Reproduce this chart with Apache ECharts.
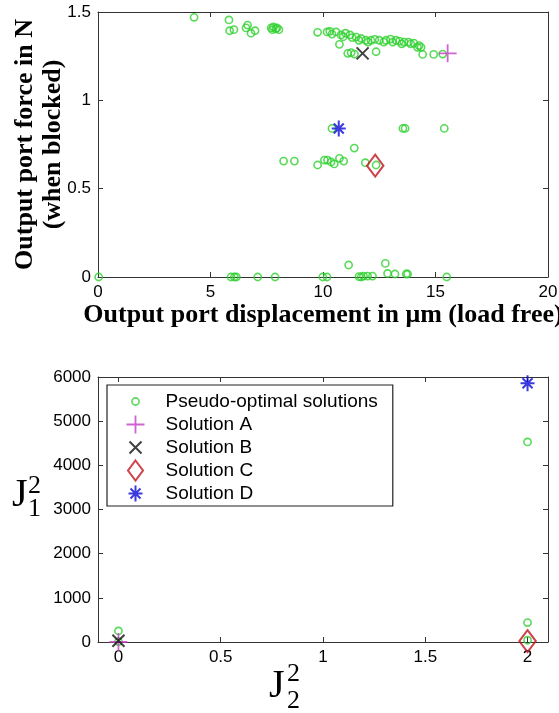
<!DOCTYPE html>
<html><head><meta charset="utf-8">
<script src="https://cdn.jsdelivr.net/npm/echarts@6/dist/echarts.min.js"></script>
<style>html,body{margin:0;padding:0;background:#fff}#c{width:559px;height:713px}</style>
</head><body><div id="c"></div>
<script>
// ---------- data ----------
const seriesNames = ['Pseudo-optimal solutions', 'Solution A', 'Solution B', 'Solution C', 'Solution D'];

// top chart: displacement (µm) vs blocked force (N)
const topPseudo = [
  [4.27,1.47],[5.82,1.455],[6.04,1.40],[5.85,1.394],[6.65,1.426],[6.58,1.41],[6.8,1.38],[6.98,1.394],
  [7.7,1.41],[7.75,1.40],[7.8,1.415],[7.9,1.405],[7.95,1.41],[8.04,1.40],
  [9.76,1.385],[10.18,1.387],[10.3,1.39],[10.4,1.375],[10.58,1.387],[10.8,1.37],[10.9,1.36],[11.0,1.38],
  [11.2,1.37],[11.3,1.355],[11.47,1.358],[11.6,1.34],[11.7,1.35],[11.9,1.34],[12.0,1.33],[12.13,1.34],
  [12.3,1.345],[12.5,1.34],[12.7,1.33],[12.8,1.34],[13.0,1.347],[13.1,1.33],[13.24,1.34],
  [13.4,1.335],[13.5,1.32],[13.6,1.33],[13.8,1.33],[13.9,1.32],[14.04,1.324],[14.2,1.30],[14.27,1.31],
  [14.36,1.30],[10.73,1.317],
  [11.1,1.266],[11.25,1.27],[11.4,1.262],[12.36,1.275],[14.43,1.26],[14.92,1.26],[15.32,1.262],
  [10.4,0.841],[13.55,0.841],[13.65,0.841],[15.39,0.841],
  [11.39,0.73],[8.25,0.656],[8.73,0.656],[9.76,0.634],[10.06,0.662],[10.2,0.662],[10.36,0.651],
  [10.5,0.64],[10.73,0.672],[10.92,0.656],[11.88,0.647],[12.36,0.634],
  [0.03,0],[5.91,0],[6.06,0],[6.15,0],[7.1,0],[7.87,0],[9.99,0],[10.18,0],[11.14,0.068],
  [11.6,0.002],[11.7,0],[11.8,0.005],[11.98,0.005],[12.2,0.005],[12.77,0.077],[12.87,0.02],
  [13.2,0.017],[13.7,0.017],[13.76,0.017],[15.5,0]
];
const topA = [[15.54,1.266]];
const topB = [[11.76,1.266]];
const topC = [[12.32,0.63]];
const topD = [[10.7,0.841]];

// bottom chart: J2^2 vs J1^2
const bottomPseudo = [[0,250],[0,10],[2,4530],[2,440],[2,40]];
const bottomA = [[0,0]];
const bottomB = [[0,30]];
const bottomC = [[2,20]];
const bottomD = [[2,5860]];

const topXTicks = [0, 5, 10, 15, 20];
const topYTicks = [0, 0.5, 1, 1.5];
const bottomXTicks = [0, 0.5, 1, 1.5, 2];
const bottomYTicks = [0, 1000, 2000, 3000, 4000, 5000, 6000];

// ---------- styles ----------
const GREEN = '#2ed12e', MAG = '#c43cc4', BLK = '#111', RED = '#c0141c', BLUE = '#0a0ad8';
const SYM = {
  circle: 'path://M0 0 M20 20 M13.6 10 A3.6 3.6 0 1 1 6.4 10 A3.6 3.6 0 1 1 13.6 10 Z',
  plus: 'path://M0 0 M20 20 M1 10 L19 10 M10 1 L10 19',
  cross: 'path://M0 0 M20 20 M4 4 L16 16 M16 4 L4 16',
  diamond: 'path://M0 0 M20 20 M10 0 L17.5 10 L10 20 L2.5 10 Z',
  star: 'path://M0 0 M20 20 M10 2 L10 18 M3 10 L17 10 M5 5 L15 15 M15 5 L5 15'
};
const styles = [
  {symbol: SYM.circle, color: GREEN, bw: 1.6, size: 20},
  {symbol: SYM.plus, color: MAG, bw: 1.8, size: 20},
  {symbol: SYM.cross, color: BLK, bw: 2, size: 20},
  {symbol: SYM.diamond, color: RED, bw: 2, size: 22},
  {symbol: SYM.star, color: BLUE, bw: 2, size: 20}
];

const labelFont = {fontFamily: 'Liberation Sans', fontSize: 17, color: '#000'};
const titleFont = {fontFamily: 'Liberation Serif', fontWeight: 'bold', fontSize: 26, color: '#000'};
const lineCol = '#333';
const fmt = v => String(v);

function axis(extra, showLabel, custom) {
  const a = Object.assign({
    type: 'value',
    axisLine: {show: true, onZero: false, lineStyle: {color: lineCol, width: 1}},
    axisTick: {show: true, inside: true, length: 5, lineStyle: {color: lineCol}},
    splitLine: {show: false},
    axisLabel: Object.assign({show: showLabel, margin: 7, formatter: fmt}, labelFont)
  }, extra);
  if (custom) {
    a.axisTick.customValues = custom;
    a.axisLabel.customValues = custom;
  }
  return a;
}

function mk(name, data, xi, yi, k) {
  const s = styles[k];
  return {
    name, type: 'scatter', xAxisIndex: xi, yAxisIndex: yi, data,
    symbol: s.symbol, symbolSize: s.size,
    itemStyle: {color: 'none', borderColor: s.color, borderWidth: s.bw}
  };
}

const chart = echarts.init(document.getElementById('c'), null, {renderer: 'canvas'});
const topData = [topPseudo, topA, topB, topC, topD];
const botData = [bottomPseudo, bottomA, bottomB, bottomC, bottomD];
const series = [];
seriesNames.forEach((n, k) => series.push(mk(n, topData[k], 0, 0, k)));
seriesNames.forEach((n, k) => series.push(mk(n, botData[k], 2, 2, k)));

chart.setOption({
  animation: false,
  grid: [
    {left: 98, right: 11, top: 12, height: 265, outerBoundsMode: 'none'},
    {left: 98, right: 11, top: 377, height: 265, outerBoundsMode: 'none'}
  ],
  xAxis: [
    axis({gridIndex: 0, min: topXTicks[0], max: topXTicks[topXTicks.length - 1], interval: 5, position: 'bottom',
      name: 'Output port displacement in \u03bcm (load free)', nameLocation: 'middle', nameGap: 23,
      nameTextStyle: titleFont}, true),
    axis({gridIndex: 0, min: topXTicks[0], max: topXTicks[topXTicks.length - 1], interval: 5, position: 'top'}, false),
    axis({gridIndex: 1, min: -0.1, max: 2.1, position: 'bottom'}, true, bottomXTicks),
    axis({gridIndex: 1, min: -0.1, max: 2.1, position: 'top'}, false, bottomXTicks)
  ],
  yAxis: [
    axis({gridIndex: 0, min: topYTicks[0], max: topYTicks[topYTicks.length - 1], interval: 0.5, position: 'left',
      name: 'Output port force in N\n(when blocked)', nameLocation: 'middle', nameRotate: 90, nameGap: 31,
      nameMoveOverlap: false,
      nameTextStyle: Object.assign({lineHeight: 28}, titleFont)}, true),
    axis({gridIndex: 0, min: topYTicks[0], max: topYTicks[topYTicks.length - 1], interval: 0.5, position: 'right'}, false),
    axis({gridIndex: 1, min: bottomYTicks[0], max: bottomYTicks[bottomYTicks.length - 1], interval: 1000, position: 'left'}, true),
    axis({gridIndex: 1, min: bottomYTicks[0], max: bottomYTicks[bottomYTicks.length - 1], interval: 1000, position: 'right'}, false)
  ],
  legend: {
    orient: 'vertical', left: 107, top: 385, selectedMode: false,
    padding: [4, 15, 0, 16], itemWidth: 50, itemHeight: 20, itemGap: -2,
    borderColor: '#222', borderWidth: 1.2, backgroundColor: '#fff',
    textStyle: {fontFamily: 'Liberation Sans', fontSize: 19, lineHeight: 20, color: '#000'},
    data: seriesNames.map((n, k) => ({name: n, itemStyle: {borderWidth: styles[k].bw}}))
  },
  graphic: [
    {type: 'text', left: 12, top: 475, style: {text: 'J', font: '40px "Liberation Serif"', fill: '#000'}},
    {type: 'text', left: 28, top: 473, style: {text: '2', font: '26px "Liberation Serif"', fill: '#000'}},
    {type: 'text', left: 28, top: 496, style: {text: '1', font: '26px "Liberation Serif"', fill: '#000'}},
    {type: 'text', left: 269, top: 666, style: {text: 'J', font: '40px "Liberation Serif"', fill: '#000'}},
    {type: 'text', left: 287, top: 661, style: {text: '2', font: '26px "Liberation Serif"', fill: '#000'}},
    {type: 'text', left: 287, top: 688, style: {text: '2', font: '26px "Liberation Serif"', fill: '#000'}}
  ],
  series
});
</script></body></html>
